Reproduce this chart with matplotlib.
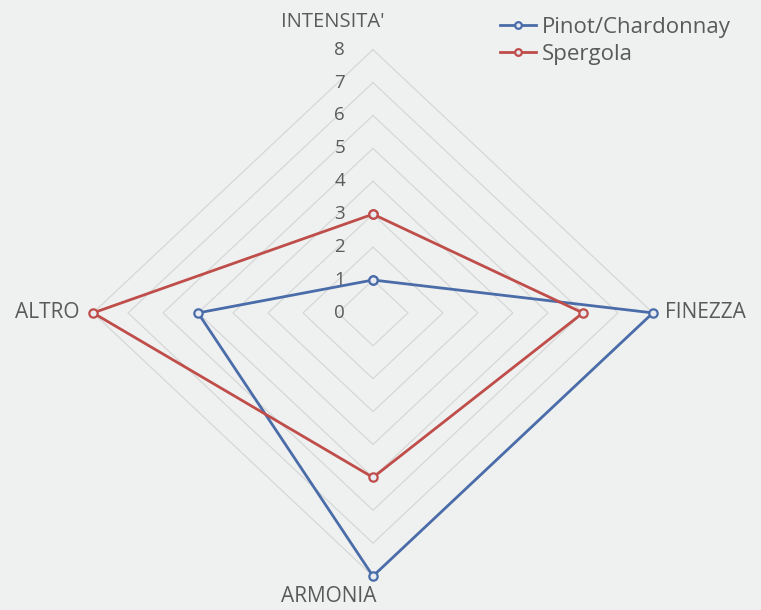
import matplotlib.pyplot as plt
import numpy as np

categories = ["INTENSITA'", 'FINEZZA', 'ARMONIA', 'ALTRO']
pinot = [1, 8, 8, 5]
spergola = [3, 6, 5, 8]
ticks = [0, 1, 2, 3, 4, 5, 6, 7, 8]

BG = '#eff0f0'
TXT = '#5a5a5a'
BLUE = '#4a6ca8'
RED = '#bf4d4a'

plt.rcParams['font.family'] = ['Open Sans', 'DejaVu Sans']

# angles: top, right, bottom, left (clockwise from top)
theta = np.arange(len(categories)) * 2 * np.pi / len(categories)


def to_xy(vals):
    r = np.append(vals, vals[0])
    t = np.append(theta, theta[0])
    return r * np.sin(t), r * np.cos(t)


fig = plt.figure(figsize=(7.61, 6.10), dpi=100, facecolor=BG)
ax = fig.add_axes([0, 0, 1, 1])
ax.set_facecolor(BG)
ax.set_xlim(-10.66, 11.09)
ax.set_ylim(-9.03, 9.51)
ax.axis('off')

# grid diamonds
for t in ticks[1:]:
    gx, gy = to_xy([t] * len(categories))
    ax.plot(gx, gy, color='#d6d8d8', lw=0.9, zorder=1)

# tick labels along the top axis
for t in ticks:
    ax.text(-0.95, t, str(t), ha='center', va='center', fontsize=13.5, color=TXT)

for vals, col, lab in [(pinot, BLUE, 'Pinot/Chardonnay'), (spergola, RED, 'Spergola')]:
    x, y = to_xy(vals)
    ax.plot(x, y, color=col, lw=2, marker='o', ms=6, mfc='#e8ecf2', mec=col,
            mew=1.6, label=lab, zorder=3)

# category labels
ax.text(-1.15, 8.85, categories[0], ha='center', va='center', fontsize=14.5, color=TXT)
ax.text(8.35, 0, categories[1], ha='left', va='center', fontsize=15, color=TXT)
ax.text(-1.25, -8.62, categories[2], ha='center', va='center', fontsize=15, color=TXT)
ax.text(-8.4, 0, categories[3], ha='right', va='center', fontsize=15, color=TXT)

leg = ax.legend(loc='upper left', bbox_to_anchor=(500 / 761, 1 - 17 / 610),
                bbox_transform=fig.transFigure, frameon=False, borderpad=0,
                borderaxespad=0, fontsize=16, labelcolor=TXT, handlelength=1.6,
                handletextpad=0.3, labelspacing=0.25, markerscale=0.8)

fig.savefig('out.png', dpi=100, facecolor=BG)
